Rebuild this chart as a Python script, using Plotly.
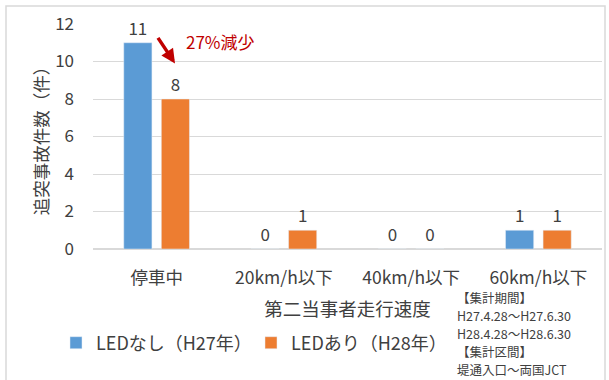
import plotly.graph_objects as go

categories = ["停車中", "20km/h以下", "40km/h以下", "60km/h以下"]
led_none_h27 = [11, 0, 0, 1]
led_with_h28 = [8, 1, 0, 1]
series_names = ["LEDなし（H27年）", "LEDあり（H28年）"]
y_ticks = [0, 2, 4, 6, 8, 10, 12]
note_lines = ["【集計期間】", "H27.4.28～H27.6.30", "H28.4.28～H28.6.30", "【集計区間】", "堤通入口～両国JCT"]

FONT = "Noto Sans CJK JP, Noto Sans, sans-serif"
TXT = "#404040"

W, H = 609, 380
L, R, T, B = 93, 7, 24, 131
PW, PH = W - L - R, H - T - B

def px(x):
    return (x - L) / PW

def py(y):
    return (H - B - y) / PH

fig = go.Figure()
fig.add_trace(go.Bar(x=categories, y=led_none_h27, name=series_names[0],
                     marker_color="#5b9bd5", text=led_none_h27, textposition="outside",
                     textfont=dict(size=17, color=TXT), cliponaxis=False))
fig.add_trace(go.Bar(x=categories, y=led_with_h28, name=series_names[1],
                     marker_color="#ed7d31", text=led_with_h28, textposition="outside",
                     textfont=dict(size=17, color=TXT), cliponaxis=False))

fig.update_layout(
    width=W, height=H,
    margin=dict(l=L, r=R, t=T, b=B),
    paper_bgcolor="white", plot_bgcolor="white",
    font=dict(family=FONT, color=TXT, size=17),
    bargap=0.41, bargroupgap=0.25,
    showlegend=True,
    legend=dict(orientation="h", x=px(56), y=py(343), xanchor="left", yanchor="middle",
                entrywidth=150, font=dict(size=18, color=TXT), itemwidth=30),
    xaxis=dict(showgrid=False, showline=False, ticks="", tickfont=dict(size=17.5, color=TXT),
               ticklabelstandoff=16,
               title=dict(text="第二当事者走行速度", font=dict(size=18.5, color=TXT), standoff=15)),
    yaxis=dict(range=[0, 12], tickvals=y_ticks, showgrid=True, gridcolor="#d9d9d9",
               zeroline=True, zerolinecolor="#d9d9d9", showline=False, ticks="",
               tickfont=dict(size=17, color=TXT), ticklabelstandoff=18,
               title=dict(text="追突事故件数（件）", font=dict(size=17.5, color=TXT), standoff=2)),
)

fig.add_annotation(x=px(175), y=9.9, xref="paper", yref="y", text="", showarrow=True,
                   ax=-18, ay=-27, arrowcolor="#c00000", arrowwidth=3.5, arrowhead=2,
                   arrowsize=0.8)
fig.add_annotation(x=px(220), y=py(42), xref="paper", yref="paper", xanchor="center",
                   yanchor="middle", text="27%減少",
                   showarrow=False, font=dict(size=17, color="#c00000"))
for i, line in enumerate(note_lines):
    fig.add_annotation(x=px(456), y=py(297 + i * 18.2), xref="paper", yref="paper",
                       xanchor="left", yanchor="middle", showarrow=False, text=line,
                       font=dict(size=12.5, color=TXT), borderpad=0)
fig.add_shape(type="rect", xref="paper", yref="paper", x0=px(6), x1=px(605),
              y0=py(395), y1=py(6), line=dict(color="#d9d9d9", width=1.5), layer="below")

fig.write_html("out.html")
